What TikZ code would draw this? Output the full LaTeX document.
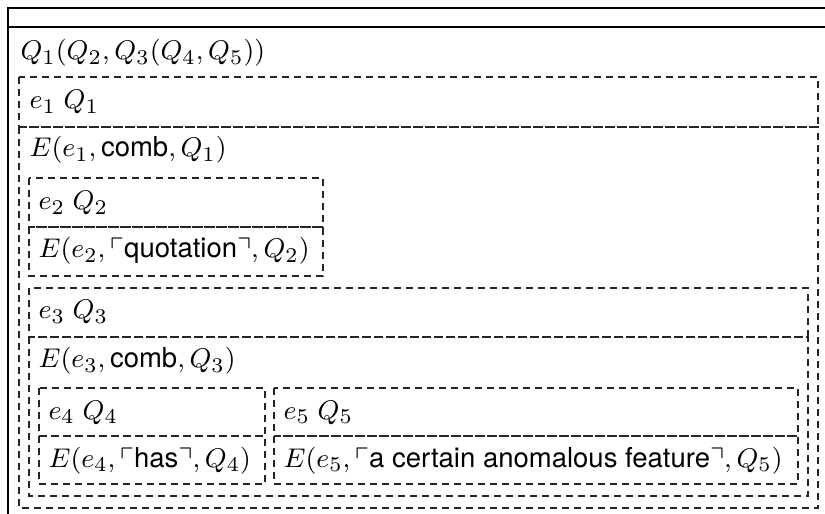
\documentclass[tikz,border=0pt]{standalone}
\usepackage{amsmath,amssymb}
\usepackage[no-math]{fontspec}
\setmainfont{TeX Gyre Heros}[Scale=0.975]
\tikzset{
  solidbox/.style={draw=black, line width=0.45pt},
  dbox/.style={draw=black!85, line width=0.4pt, dash pattern=on 2.4pt off 1.6pt},
  lbl/.style={anchor=base west, inner sep=0pt, font=\fontsize{9.4}{12}\selectfont}
}
\begin{document}
\begin{tikzpicture}[x=0.33333pt,y=-0.33333pt]
\useasboundingbox (0,0) rectangle (825,514);
\clip (0,0) rectangle (825,514);
% outer solid frame (cut off at right and bottom)
\draw[solidbox] (8,8) rectangle (840,530);
\draw[solidbox] (8,27) -- (840,27);
% box 1
\draw[dbox] (19,77) rectangle (818,127);
\draw[dbox] (19,127) rectangle (818,508);
% box 2
\draw[dbox] (29,178) rectangle (323,227);
\draw[dbox] (29,227) rectangle (323,276);
% box 3
\draw[dbox] (29,288) rectangle (808,337);
\draw[dbox] (29,337) rectangle (808,496);
% box 4
\draw[dbox] (39,388) rectangle (265,436);
\draw[dbox] (39,436) rectangle (265,484);
% box 5
\draw[dbox] (274,388) rectangle (798,436);
\draw[dbox] (274,436) rectangle (798,484);
% texts
\node[lbl] (q)  at (20,60)  {$Q_1(Q_2,Q_3(Q_4,Q_5))$};
\node[lbl] (h1) at (29,109) {$e_1\;Q_1$};
\node[lbl] (b1) at (29,157) {$E(e_1,\text{comb},Q_1)$};
\node[lbl] (h2) at (38,210) {$e_2\;Q_2$};
\node[lbl] (b2) at (38,258) {$E(e_2,\ulcorner\text{quotation}\urcorner,Q_2)$};
\node[lbl] (h3) at (38,319) {$e_3\;Q_3$};
\node[lbl] (b3) at (38,368) {$E(e_3,\text{comb},Q_3)$};
\node[lbl] (h4) at (48,419) {$e_4\;Q_4$};
\node[lbl] (b4) at (48,467) {$E(e_4,\ulcorner\text{has}\urcorner,Q_4)$};
\node[lbl] (h5) at (283,419) {$e_5\;Q_5$};
\node[lbl] (b5) at (283,467) {$E(e_5,\ulcorner\text{a certain anomalous feature}\urcorner,Q_5)$};
\end{tikzpicture}
\end{document}
